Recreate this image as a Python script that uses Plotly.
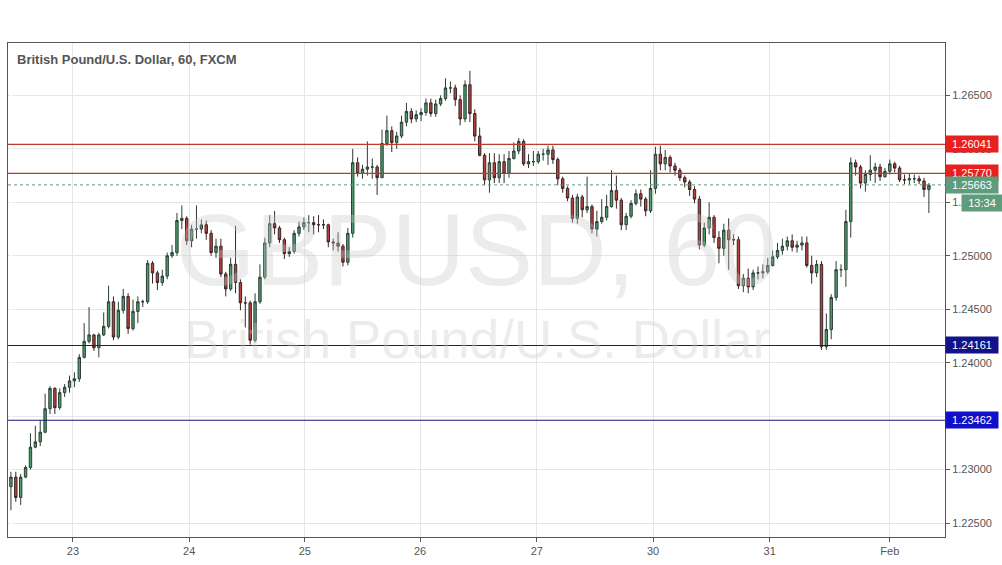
import plotly.graph_objects as go

# hourly GBP/USD candles (first open, then closes, highs, lows)
first_open = 1.2284
closes = [
    1.2293, 1.2274, 1.2293, 1.2302, 1.2321, 1.2326, 1.2335, 1.2357, 1.2376, 1.2358,
    1.2372, 1.2377, 1.2383, 1.2385, 1.2405, 1.2420, 1.2426, 1.2414, 1.2426, 1.2434,
    1.2457, 1.2424, 1.2449, 1.2462, 1.2432, 1.2448, 1.2457, 1.2457, 1.2493, 1.2484,
    1.2475, 1.2481, 1.2500, 1.2503, 1.2533, 1.2535, 1.2514, 1.2525, 1.2525, 1.2529,
    1.2521, 1.2503, 1.2509, 1.2483, 1.2469, 1.2492, 1.2475, 1.2456, 1.2456, 1.2421,
    1.2457, 1.2480, 1.2512, 1.2530, 1.2526, 1.2515, 1.2502, 1.2504, 1.2521, 1.2527,
    1.2531, 1.2531, 1.2529, 1.2529, 1.2529, 1.2513, 1.2512, 1.2509, 1.2494, 1.2521,
    1.2587, 1.2577, 1.2581, 1.2583, 1.2583, 1.2573, 1.2605, 1.2617, 1.2606, 1.2612,
    1.2625, 1.2635, 1.2628, 1.2632, 1.2634, 1.2643, 1.2633, 1.2642, 1.2647, 1.2657,
    1.2657, 1.2646, 1.2628, 1.2660, 1.2633, 1.2612, 1.2594, 1.2571, 1.2587, 1.2573,
    1.2588, 1.2577, 1.2591, 1.2598, 1.2607, 1.2586, 1.2588, 1.2588, 1.2595, 1.2595,
    1.2599, 1.2590, 1.2572, 1.2563, 1.2554, 1.2535, 1.2555, 1.2543, 1.2546, 1.2525,
    1.2532, 1.2536, 1.2546, 1.2561, 1.2552, 1.2529, 1.2537, 1.2549, 1.2558, 1.2553,
    1.2542, 1.2563, 1.2595, 1.2586, 1.2592, 1.2584, 1.2580, 1.2573, 1.2569, 1.2562,
    1.2553, 1.2510, 1.2526, 1.2536, 1.2517, 1.2507, 1.2524, 1.2515, 1.2515, 1.2472,
    1.2479, 1.2471, 1.2484, 1.2484, 1.2485, 1.2491, 1.2499, 1.2505, 1.2509, 1.2514,
    1.2508, 1.2510, 1.2512, 1.2491, 1.2484, 1.2492, 1.2415, 1.2431, 1.2461, 1.2487,
    1.2487, 1.2532, 1.2587, 1.2583, 1.2568, 1.2576, 1.2580, 1.2583, 1.2574, 1.2579,
    1.2586, 1.2582, 1.2571, 1.2571, 1.2572, 1.2572, 1.2570, 1.2562, 1.2566,
]
highs = [
    1.2298, 1.2298, 1.2296, 1.2304, 1.2334, 1.2341, 1.2346, 1.2371, 1.2378, 1.2377,
    1.2376, 1.2380, 1.2388, 1.2391, 1.2408, 1.2437, 1.2452, 1.2427, 1.2428, 1.2447,
    1.2472, 1.2462, 1.2457, 1.2469, 1.2465, 1.2459, 1.2462, 1.2459, 1.2496, 1.2495,
    1.2486, 1.2487, 1.2503, 1.2510, 1.2540, 1.2547, 1.2537, 1.2529, 1.2547, 1.2534,
    1.2533, 1.2524, 1.2516, 1.2516, 1.2485, 1.2498, 1.2528, 1.2478, 1.2462, 1.2458,
    1.2465, 1.2492, 1.2517, 1.2538, 1.2542, 1.2528, 1.2517, 1.2508, 1.2524, 1.2532,
    1.2536, 1.2538, 1.2537, 1.2538, 1.2534, 1.2530, 1.2516, 1.2522, 1.2511, 1.2526,
    1.2600, 1.2592, 1.2585, 1.2607, 1.2591, 1.2585, 1.2618, 1.2631, 1.2621, 1.2616,
    1.2631, 1.2643, 1.2638, 1.2636, 1.2638, 1.2647, 1.2647, 1.2646, 1.2650, 1.2666,
    1.2663, 1.2660, 1.2650, 1.2664, 1.2673, 1.2637, 1.2620, 1.2596, 1.2596, 1.2596,
    1.2595, 1.2595, 1.2598, 1.2606, 1.2610, 1.2609, 1.2595, 1.2598, 1.2598, 1.2600,
    1.2603, 1.2603, 1.2592, 1.2574, 1.2565, 1.2557, 1.2558, 1.2557, 1.2574, 1.2548,
    1.2542, 1.2553, 1.2557, 1.2580, 1.2575, 1.2554, 1.2540, 1.2552, 1.2562, 1.2562,
    1.2555, 1.2580, 1.2602, 1.2603, 1.2599, 1.2594, 1.2587, 1.2582, 1.2575, 1.2571,
    1.2565, 1.2556, 1.2531, 1.2550, 1.2538, 1.2523, 1.2530, 1.2535, 1.2520, 1.2518,
    1.2483, 1.2488, 1.2487, 1.2490, 1.2492, 1.2498, 1.2505, 1.2512, 1.2516, 1.2518,
    1.2520, 1.2514, 1.2518, 1.2518, 1.2500, 1.2496, 1.2495, 1.2446, 1.2464, 1.2495,
    1.2492, 1.2543, 1.2592, 1.2590, 1.2585, 1.2580, 1.2594, 1.2587, 1.2586, 1.2582,
    1.2590, 1.2588, 1.2584, 1.2576, 1.2577, 1.2576, 1.2575, 1.2573, 1.2568,
]
lows = [
    1.2262, 1.2270, 1.2267, 1.2292, 1.2300, 1.2320, 1.2322, 1.2334, 1.2352, 1.2352,
    1.2356, 1.2368, 1.2372, 1.2377, 1.2382, 1.2404, 1.2418, 1.2411, 1.2405, 1.2425,
    1.2432, 1.2421, 1.2422, 1.2446, 1.2427, 1.2430, 1.2437, 1.2452, 1.2455, 1.2474,
    1.2468, 1.2472, 1.2478, 1.2498, 1.2500, 1.2525, 1.2510, 1.2508, 1.2516, 1.2521,
    1.2515, 1.2500, 1.2498, 1.2480, 1.2462, 1.2467, 1.2465, 1.2449, 1.2433, 1.2417,
    1.2419, 1.2455, 1.2478, 1.2508, 1.2520, 1.2512, 1.2497, 1.2499, 1.2502, 1.2518,
    1.2524, 1.2522, 1.2520, 1.2522, 1.2525, 1.2508, 1.2505, 1.2504, 1.2490, 1.2491,
    1.2517, 1.2574, 1.2572, 1.2575, 1.2572, 1.2557, 1.2573, 1.2603, 1.2597, 1.2600,
    1.2610, 1.2621, 1.2624, 1.2625, 1.2626, 1.2631, 1.2630, 1.2630, 1.2640, 1.2645,
    1.2652, 1.2640, 1.2622, 1.2625, 1.2625, 1.2607, 1.2593, 1.2566, 1.2559, 1.2568,
    1.2568, 1.2568, 1.2573, 1.2590, 1.2595, 1.2584, 1.2582, 1.2584, 1.2586, 1.2589,
    1.2585, 1.2586, 1.2566, 1.2559, 1.2551, 1.2531, 1.2530, 1.2536, 1.2540, 1.2521,
    1.2518, 1.2530, 1.2533, 1.2545, 1.2544, 1.2524, 1.2524, 1.2535, 1.2547, 1.2546,
    1.2537, 1.2540, 1.2558, 1.2580, 1.2580, 1.2578, 1.2575, 1.2570, 1.2564, 1.2556,
    1.2549, 1.2506, 1.2508, 1.2520, 1.2512, 1.2493, 1.2500, 1.2487, 1.2510, 1.2469,
    1.2466, 1.2465, 1.2468, 1.2478, 1.2479, 1.2483, 1.2490, 1.2497, 1.2501, 1.2505,
    1.2504, 1.2503, 1.2505, 1.2489, 1.2474, 1.2480, 1.2412, 1.2412, 1.2422, 1.2458,
    1.2480, 1.2471, 1.2517, 1.2575, 1.2563, 1.2560, 1.2570, 1.2568, 1.2570, 1.2573,
    1.2576, 1.2578, 1.2569, 1.2567, 1.2567, 1.2568, 1.2567, 1.2555, 1.2540,
]
opens = [first_open] + closes[:-1]
idx = list(range(len(closes)))

# day labels along the bottom (candle index positions)
day_pos = [12.7, 36.5, 60.2, 83.8, 107.7, 131.5, 155.4, 180]
day_labels = ["23", "24", "25", "26", "27", "30", "31", "Feb"]

y_ticks = [1.225, 1.230, 1.235, 1.240, 1.245, 1.250, 1.255, 1.260, 1.265]

# horizontal levels: value, line colour, label colour
levels = [
    (1.26041, "#c0392b", "#e8201e"),
    (1.25770, "#c0392b", "#e8201e"),
    (1.24161, "#1a1a7a", "#12128a"),
    (1.23462, "#1a1a7a", "#1010c8"),
]
last_price = 1.25663

fig = go.Figure()
fig.add_trace(go.Candlestick(
    x=idx, open=opens, high=highs, low=lows, close=closes,
    increasing=dict(fillcolor="#4e9c72", line=dict(color="#2b3d33", width=1)),
    decreasing=dict(fillcolor="#b8423f", line=dict(color="#3a2424", width=1)),
    whiskerwidth=0, showlegend=False, hoverinfo="skip",
))

lbl_font = dict(color="white", size=11, family="Arial")
for val, lc, bc in levels:
    fig.add_hline(y=val, line=dict(color=lc, width=1.2))
    fig.add_annotation(xref="paper", x=1.0, xanchor="left", y=val, yref="y",
                       text=f"{val:.5f}", showarrow=False, bgcolor=bc,
                       font=lbl_font, borderpad=2, width=48)
fig.add_hline(y=last_price, line=dict(color="#5a9a7a", width=1, dash="dot"))
fig.add_annotation(xref="paper", x=1.0, xanchor="left", y=last_price, yref="y",
                   text=f"{last_price:.5f}", showarrow=False, bgcolor="#5f9c7c",
                   font=lbl_font, borderpad=2, width=48)
fig.add_annotation(xref="paper", x=1.017, xanchor="left", y=last_price - 0.0017, yref="y",
                   text="13:34", showarrow=False, bgcolor="#5f9c7c",
                   font=lbl_font, borderpad=2, width=36)

# watermark and title
fig.add_annotation(xref="paper", yref="y", x=0.5, y=1.2505, text="GBPUSD, 60",
                   showarrow=False, font=dict(size=102, color="rgba(200,200,200,0.35)",
                                              family="Arial"))
fig.add_annotation(xref="paper", yref="y", x=0.5, y=1.2422, text="British Pound/U.S. Dollar",
                   showarrow=False, font=dict(size=53, color="rgba(200,200,200,0.35)",
                                              family="Arial"))
fig.add_annotation(xref="paper", yref="paper", x=0.007, y=0.985, xanchor="left", yanchor="top",
                   text="<b>British Pound/U.S. Dollar, 60, FXCM</b>", showarrow=False,
                   font=dict(size=13, color="#555", family="Arial"))

fig.update_layout(
    width=1002, height=565,
    margin=dict(l=8, r=57, t=43, b=28),
    paper_bgcolor="white", plot_bgcolor="white",
    xaxis=dict(range=[-0.6, 191.3], tickvals=day_pos, ticktext=day_labels,
               rangeslider=dict(visible=False), showgrid=True, gridcolor="#e6e6e6",
               ticks="outside", ticklen=4, tickcolor="#555", showline=True,
               linecolor="#555", mirror=True, tickfont=dict(size=11, color="#555", family="Arial")),
    yaxis=dict(range=[1.2237, 1.2699], side="right", tickvals=y_ticks,
               tickformat=".5f", showgrid=True, gridcolor="#e6e6e6",
               ticks="outside", ticklen=4, tickcolor="#555", showline=True,
               linecolor="#555", mirror=True, tickfont=dict(size=11, color="#555", family="Arial")),
)
fig.write_html("out.html", config={"displayModeBar": False},
               post_script="document.body.style.margin='0';")
